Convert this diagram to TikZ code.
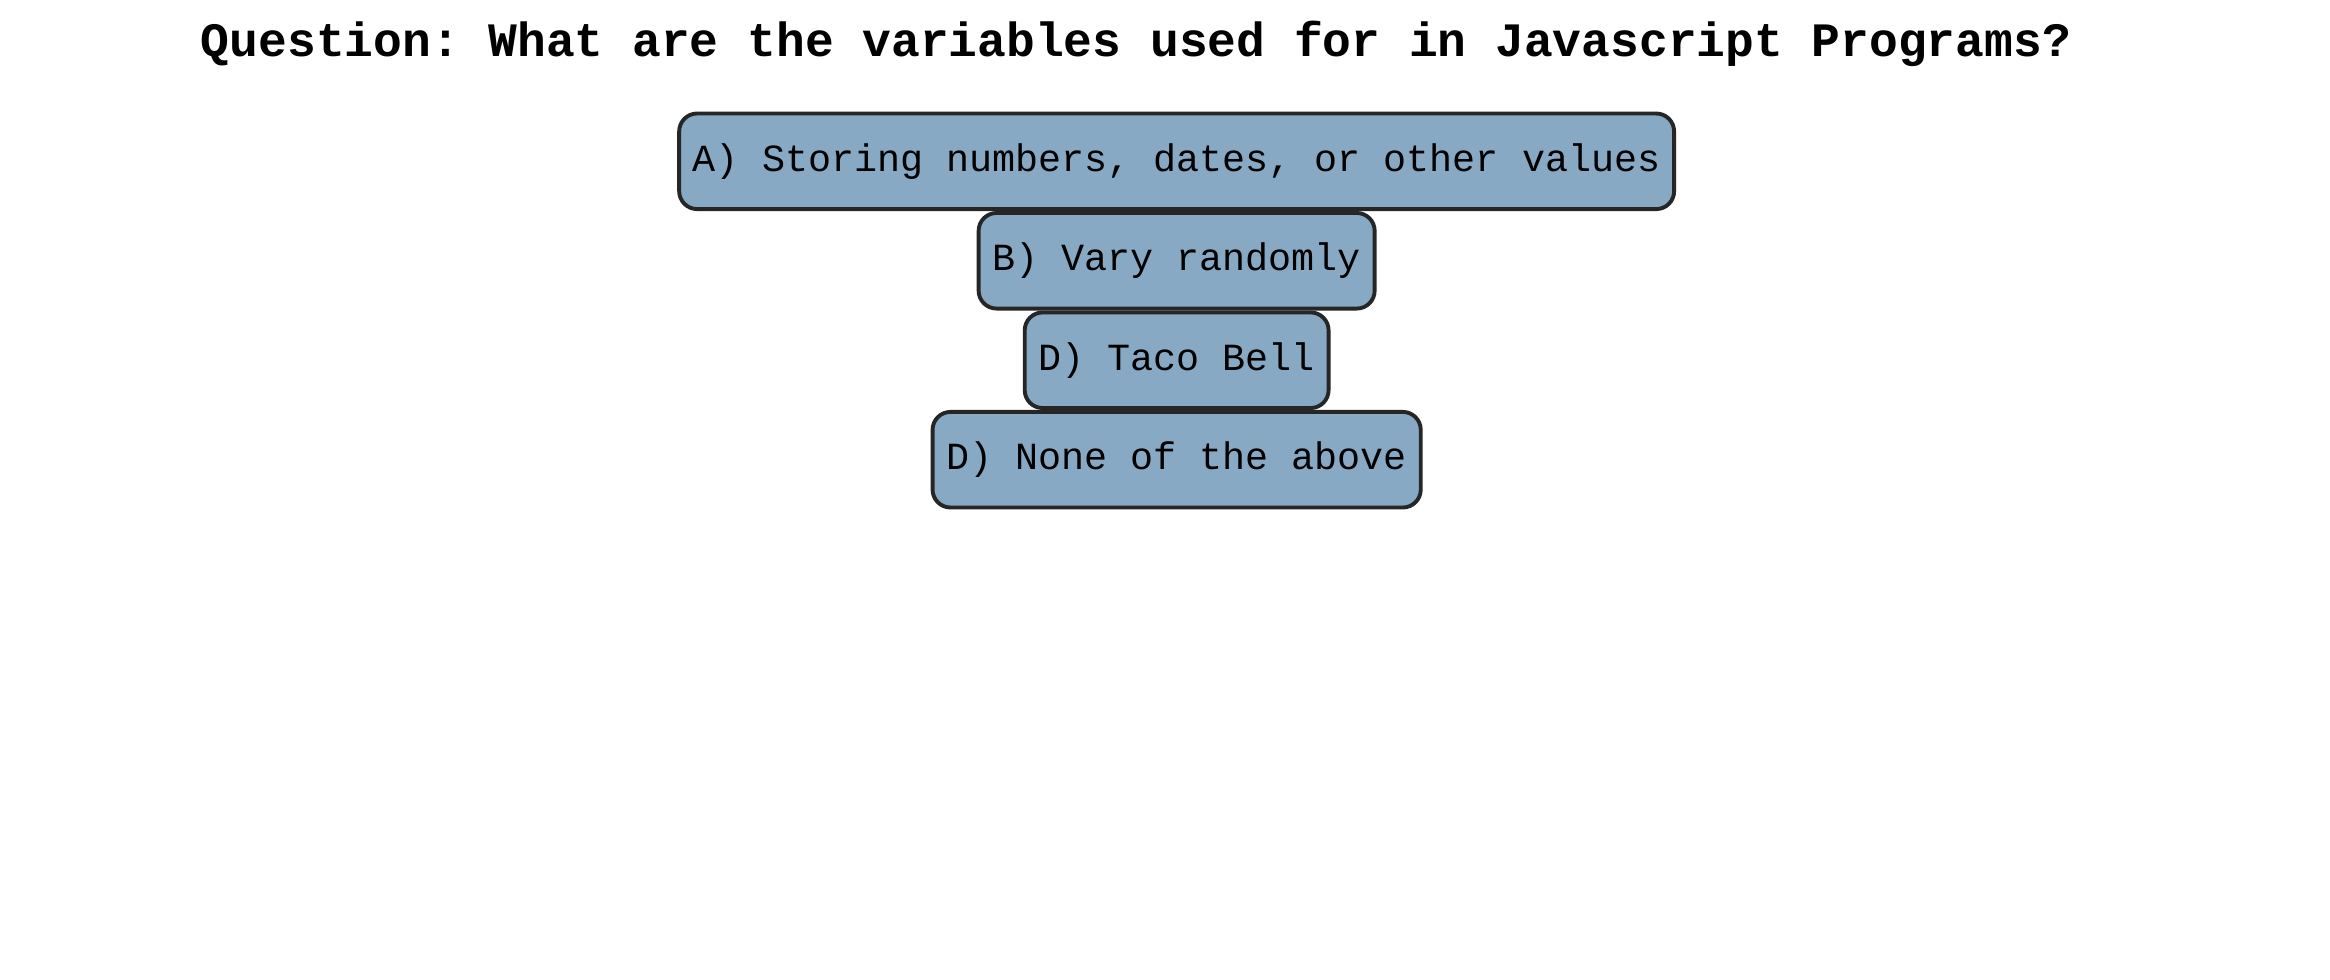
\documentclass[tikz,border=0pt]{standalone}
\usepackage{fontspec}
\setmonofont{Liberation Mono}
\usepackage{xcolor}
\usetikzlibrary{positioning}
\definecolor{answerfill}{HTML}{87A9C4}
\definecolor{answerdraw}{HTML}{262626}
\tikzset{
answer/.style={rectangle,rounded corners=6pt,draw=answerdraw,line width=1.3pt,
fill=answerfill,minimum height=32pt,inner xsep=4.6pt,
font=\fontsize{12.85}{15}\selectfont\ttfamily},
question/.style={anchor=base,font=\fontsize{16.05}{19}\selectfont\ttfamily\bfseries}
}
\begin{document}
\begin{tikzpicture}[node distance=0pt]
\useasboundingbox[fill=white] (0,0) rectangle (780pt,-328pt);
% title
\node [question] (q) at (380.3pt,-19pt) {Question: What are the variables used for in Javascript Programs?};
% answers
\node [answer] (ansA) at (393.9pt,-54pt) {A) Storing numbers, dates, or other values};
\node [answer,below=of ansA] (ansB) {B) Vary randomly};
\node [answer,below=of ansB] (ansC) {D) Taco Bell};
\node [answer,below=of ansC] (ansD) {D) None of the above};
\end{tikzpicture}
\end{document}
